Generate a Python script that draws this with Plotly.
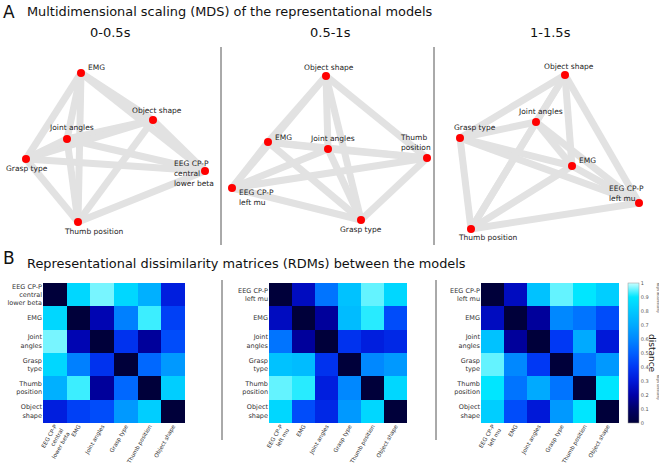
import itertools
import plotly.graph_objects as go

W, H = 659, 466

# ---------------- DATA ----------------
periods = ["0-0.5s", "0.5-1s", "1-1.5s"]

mds_names_1 = ["EMG", "Object shape", "Joint angles", "Grasp type", "EEG CP-P<br>central<br>lower beta", "Thumb position"]
mds_dim1_1 = [-0.29, 0.43, -0.43, -0.84, 0.95, -0.32]
mds_dim2_1 = [0.72, 0.25, 0.06, -0.14, -0.26, -0.77]

mds_names_2 = ["Object shape", "EMG", "Joint angles", "Thumb<br>position", "EEG CP-P<br>left mu", "Grasp type"]
mds_dim1_2 = [-0.04, -0.62, -0.02, 0.97, -0.98, 0.31]
mds_dim2_2 = [0.69, 0.03, -0.04, -0.13, -0.43, -0.75]

mds_names_3 = ["Object shape", "Joint angles", "Grasp type", "EMG", "EEG CP-P<br>left mu", "Thumb position"]
mds_dim1_3 = [0.15, -0.14, -0.90, 0.22, 0.89, -0.79]
mds_dim2_3 = [0.70, 0.23, 0.07, -0.21, -0.58, -0.84]

rdm_labels_1 = ["EEG CP-P<br>central<br>lower beta", "EMG", "Joint<br>angles", "Grasp<br>type", "Thumb<br>position", "Object<br>shape"]
rdm_labels_23 = ["EEG CP-P<br>left mu", "EMG", "Joint<br>angles", "Grasp<br>type", "Thumb<br>position", "Object<br>shape"]
xtick_labels_1 = ["EEG CP-P<br>central<br>lower beta", "EMG", "Joint angles", "Grasp type", "Thumb position", "Object shape"]
xtick_labels_23 = ["EEG CP-P<br>left mu", "EMG", "Joint angles", "Grasp type", "Thumb position", "Object shape"]

rdm_1 = [
    [0.00, 0.85, 0.96, 0.85, 0.72, 0.32],
    [0.85, 0.00, 0.22, 0.58, 0.93, 0.42],
    [0.96, 0.22, 0.00, 0.38, 0.18, 0.45],
    [0.85, 0.58, 0.38, 0.00, 0.52, 0.65],
    [0.72, 0.93, 0.18, 0.52, 0.00, 0.82],
    [0.32, 0.42, 0.45, 0.65, 0.82, 0.00],
]
rdm_2 = [
    [0.00, 0.25, 0.55, 0.78, 0.95, 0.85],
    [0.25, 0.00, 0.18, 0.76, 0.92, 0.45],
    [0.55, 0.18, 0.00, 0.38, 0.32, 0.35],
    [0.78, 0.76, 0.38, 0.00, 0.60, 0.65],
    [0.95, 0.92, 0.32, 0.60, 0.00, 0.85],
    [0.85, 0.45, 0.35, 0.65, 0.85, 0.00],
]
rdm_3 = [
    [0.00, 0.25, 0.78, 0.95, 0.90, 0.82],
    [0.25, 0.00, 0.18, 0.60, 0.55, 0.45],
    [0.78, 0.18, 0.00, 0.40, 0.70, 0.30],
    [0.95, 0.60, 0.40, 0.00, 0.55, 0.65],
    [0.90, 0.55, 0.70, 0.55, 0.00, 0.90],
    [0.82, 0.45, 0.30, 0.65, 0.90, 0.00],
]
colorbar_ticks = [0, 0.1, 0.2, 0.3, 0.4, 0.5, 0.6, 0.7, 0.8, 0.9, 1]

# ---------------- STYLE / LAYOUT ----------------
FONT = "DejaVu Sans"
colorscale = [
    [0.0, "#00003a"], [0.1, "#000066"], [0.2, "#0000a8"], [0.3, "#0018d8"],
    [0.4, "#0038f4"], [0.5, "#0060ff"], [0.6, "#0088ff"], [0.7, "#00aaff"],
    [0.8, "#00c8ff"], [0.9, "#00e6ff"], [1.0, "#c8ffff"],
]

def px(x):
    return x / W

def py(y):
    return 1 - y / H

# label offsets: (xshift, yshift, xanchor)
label_offsets = [
    [(5, 5, "left"), (4, 9, "center"), (4, 11, "center"), (1, -10, "center"), (-33, -3, "left"), (15, -10, "center")],
    [(3, 8, "center"), (5, 4, "left"), (4, 10, "center"), (-12, 15, "center"), (5, -10, "left"), (0, -10, "center")],
    [(4, 8, "center"), (4, 10, "center"), (15, 10, "center"), (5, 5, "left"), (-32, 9, "left"), (16, -9, "center")],
]

mds_sets = [
    (mds_names_1, mds_dim1_1, mds_dim2_1),
    (mds_names_2, mds_dim1_2, mds_dim2_2),
    (mds_names_3, mds_dim1_3, mds_dim2_3),
]
panel_cx = [110, 330, 550]
mds_top, mds_bot = 40, 250

fig = go.Figure()
annotations = []
layout_axes = {}

for k, (names, d1, d2) in enumerate(mds_sets):
    ax = "" if k == 0 else str(k + 1)
    xref, yref = "x" + ax, "y" + ax
    # edges (all pairs)
    ex, ey = [], []
    for i, j in itertools.combinations(range(len(names)), 2):
        ex += [d1[i], d1[j], None]
        ey += [d2[i], d2[j], None]
    fig.add_trace(go.Scatter(x=ex, y=ey, mode="lines", xaxis=xref, yaxis=yref,
                             line=dict(color="#e2e2e2", width=7), hoverinfo="skip", showlegend=False))
    fig.add_trace(go.Scatter(x=d1, y=d2, mode="markers", xaxis=xref, yaxis=yref,
                             marker=dict(color="#ff0000", size=8), text=names, showlegend=False))
    cx = panel_cx[k]
    left_px, right_px = cx - 110, min(W, cx + 110)
    layout_axes["xaxis" + ax] = dict(domain=[px(left_px), px(right_px)],
                                     range=[(left_px - cx) / 100, (right_px - cx) / 100],
                                     visible=False, anchor=yref)
    layout_axes["yaxis" + ax] = dict(domain=[py(mds_bot), py(mds_top)],
                                     range=[-(mds_bot - 145) / 100, (145 - mds_top) / 100],
                                     visible=False, anchor=xref)
    for n, (name, a, b) in enumerate(zip(names, d1, d2)):
        xs, ys, xa = label_offsets[k][n]
        annotations.append(dict(x=a, y=b, xref=xref, yref=yref, text=name, showarrow=False,
                                xshift=xs, yshift=ys, xanchor=xa, yanchor="middle", align="left",
                                font=dict(family=FONT, size=7.5, color="#222")))

# heatmaps
rdms = [rdm_1, rdm_2, rdm_3]
ylabs = [rdm_labels_1, rdm_labels_23, rdm_labels_23]
xlabs = [xtick_labels_1, xtick_labels_23, xtick_labels_23]
hm_x = [(43, 185), (269, 407), (481, 619)]
hm_top, hm_bot = 283, 423
for k in range(3):
    ax = str(k + 4)
    idx = list(range(6))
    show = (k == 2)
    fig.add_trace(go.Heatmap(
        z=rdms[k], x=idx, y=idx, xaxis="x" + ax, yaxis="y" + ax,
        colorscale=colorscale, zmin=0, zmax=1, showscale=show,
        colorbar=dict(x=px(628), xanchor="left", y=py(353), yanchor="middle",
                      len=hm_bot - hm_top, lenmode="pixels", thickness=11, thicknessmode="pixels",
                      tickvals=colorbar_ticks, ticktext=[f"{t:g}" for t in colorbar_ticks],
                      tickfont=dict(family=FONT, size=5, color="#555"), ticks="",
                      outlinewidth=0.5, outlinecolor="#999", xpad=0, ypad=0)))
    x0, x1 = hm_x[k]
    layout_axes["xaxis" + ax] = dict(domain=[px(x0), px(x1)], anchor="y" + ax,
                                     tickmode="array", tickvals=idx, ticktext=xlabs[k],
                                     tickangle=-60, tickfont=dict(family=FONT, size=5.6, color="#333"),
                                     ticklabelstandoff=-2,
                                     showgrid=False, zeroline=False, ticks="", showline=False,
                                     automargin=False)
    layout_axes["yaxis" + ax] = dict(domain=[py(hm_bot), py(hm_top)], anchor="x" + ax,
                                     tickmode="array", tickvals=idx, ticktext=ylabs[k],
                                     autorange="reversed",
                                     tickfont=dict(family=FONT, size=6.5, color="#333"),
                                     showgrid=False, zeroline=False, ticks="", showline=False,
                                     automargin=False)

# titles
annotations += [
    dict(x=px(1), y=py(12), text="A", xanchor="left", yanchor="middle",
         font=dict(family=FONT, size=17, color="#111")),
    dict(x=px(25), y=py(12), text="Multidimensional scaling (MDS) of the representational models",
         xanchor="left", yanchor="middle", font=dict(family=FONT, size=12.9, color="#111")),
    dict(x=px(1), y=py(258), text="B", xanchor="left", yanchor="middle",
         font=dict(family=FONT, size=17, color="#111")),
    dict(x=px(25), y=py(263), text="Representational dissimilarity matrices (RDMs) between the models",
         xanchor="left", yanchor="middle", font=dict(family=FONT, size=12.9, color="#111")),
    dict(x=px(652), y=py(353), text="distance", textangle=90, xanchor="center", yanchor="middle",
         font=dict(family=FONT, size=9, color="#222")),
    dict(x=px(658), y=py(298), text="high dissimilarity", textangle=90, xanchor="center", yanchor="middle",
         font=dict(family=FONT, size=3.5, color="#555")),
    dict(x=px(658), y=py(387), text="high similarity", textangle=90, xanchor="center", yanchor="middle",
         font=dict(family=FONT, size=3.5, color="#555")),
]
for k, p in enumerate(periods):
    annotations.append(dict(x=px(panel_cx[k]), y=py(33), text=p, xanchor="center", yanchor="middle",
                            font=dict(family=FONT, size=13, color="#111")))
for a in annotations:
    a.setdefault("xref", "paper")
    a.setdefault("yref", "paper")
    a["showarrow"] = False

shapes = []
for x in (221, 434):
    shapes.append(dict(type="line", xref="paper", yref="paper", x0=px(x), x1=px(x),
                       y0=py(47), y1=py(245), line=dict(color="#555", width=1)))
for x in (222, 436):
    shapes.append(dict(type="line", xref="paper", yref="paper", x0=px(x), x1=px(x),
                       y0=py(280), y1=py(440), line=dict(color="#555", width=1)))

fig.update_layout(width=W, height=H, autosize=False,
                  margin=dict(l=0, r=0, t=0, b=0, pad=0, autoexpand=False),
                  paper_bgcolor="white", plot_bgcolor="white",
                  annotations=annotations, shapes=shapes, showlegend=False,
                  **layout_axes)

fig.write_html("out.html", config={"displayModeBar": False},
               post_script="document.body.style.margin='0px';document.body.style.overflow='hidden';")
